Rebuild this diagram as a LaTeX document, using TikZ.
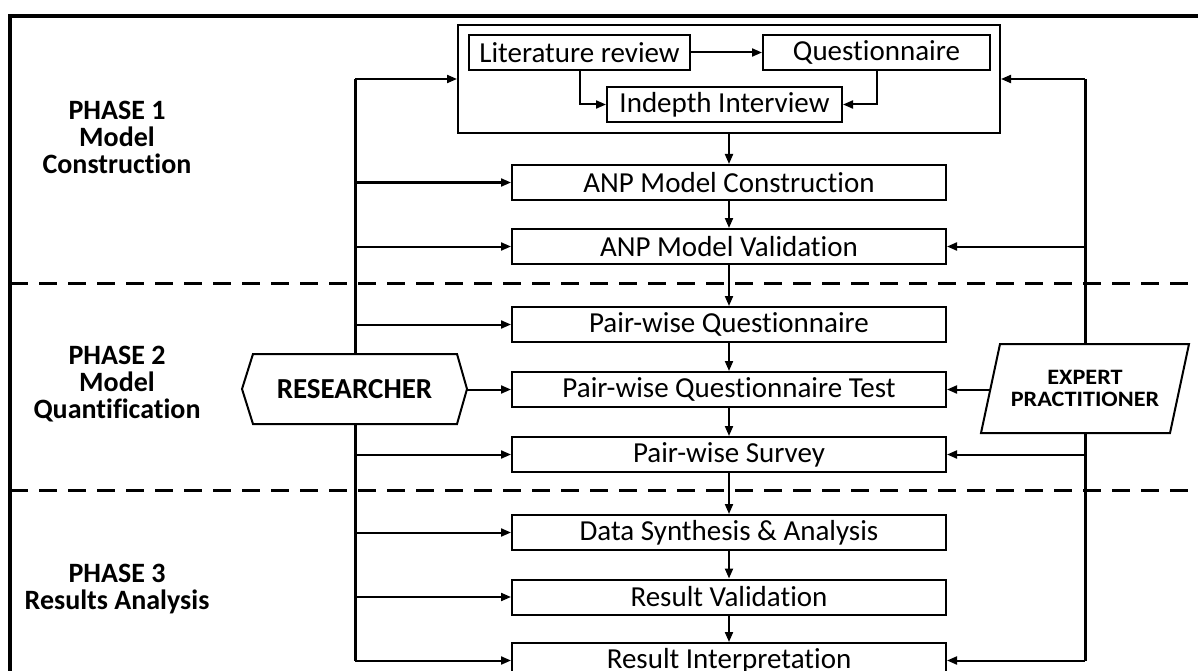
\documentclass[tikz,border=0pt]{standalone}
\usepackage{fontspec}
\setmainfont{Carlito}[Ligatures={NoCommon}]
\newfontfamily\expfont{Carlito}[FakeStretch=1.1,Ligatures={NoCommon}]
\usetikzlibrary{arrows.meta}
\begin{document}
\begin{tikzpicture}[x=1pt,y=-1pt,
  mainfont/.style={font=\fontsize{29}{34}\selectfont},
  box/.style={draw,line width=2pt,minimum width=434pt,minimum height=35pt,inner sep=0pt,mainfont},
  sbox/.style={draw,line width=2pt,minimum height=35pt,inner sep=0pt,mainfont},
  conn/.style={line width=2pt,-{Triangle[length=10pt,width=8pt]}},
  trunk/.style={line width=3pt},
  phase/.style={align=center,font=\fontsize{28}{27}\selectfont\bfseries},
  divider/.style={line width=3pt,dash pattern=on 18pt off 11pt}]
\useasboundingbox (0,0) rectangle (1198,671);
\clip (0,0) rectangle (1198,671);
\fill[white] (0,0) rectangle (1198,671);

% outer frame
\draw[line width=3.5pt] (10,680) -- (10,16) -- (1198,16);

% dividers
\coordinate (d1a) at (10,283); \coordinate (d1b) at (1198,283);
\coordinate (d2a) at (10,490); \coordinate (d2b) at (1198,490);
\draw[divider] (d1a) -- (d1b);
\draw[divider] (d2a) -- (d2b);

% phase labels
\node[phase] (p1) at (117,137) {PHASE 1\\Model\\Construction};
\node[phase] (p2) at (117,384) {PHASE 2\\Model\\Quantification};
\node[phase] (p3) at (117,589) {PHASE 3\\Results Analysis};

% top group
\node[draw,line width=2pt,minimum width=542pt,minimum height=108pt,inner sep=0pt] (grp) at (729,79) {};
\node[sbox,minimum width=221pt] (lit) at (579.5,52.5) {Literature review};
\node[sbox,minimum width=227pt] (que) at (876.5,52.5) {Questionnaire};
\node[sbox,minimum width=235pt] (ind) at (724.5,104.5) {Indepth Interview};
\draw[conn] (lit) -- (que);
\draw[conn] (lit.south) |- (ind.west);
\draw[conn] (que.south) |- (ind.east);

% main column
\node[box] (amc) at (729,182.5) {ANP Model Construction};
\node[box] (amv) at (729,246.5) {ANP Model Validation};
\node[box] (pwq) at (729,324.5) {Pair-wise Questionnaire};
\node[box] (pwqt) at (729,389.5) {Pair-wise Questionnaire Test};
\node[box] (pws) at (729,454.5) {Pair-wise Survey};
\node[box] (dsa) at (729,532.5) {Data Synthesis \& Analysis};
\node[box] (rv) at (729,597) {Result Validation};
\node[box] (ri) at (729,660.5) {Result Interpretation};

\draw[conn] (grp.south) -- (amc.north);
\draw[conn] (amc) -- (amv);
\draw[conn] (amv) -- (pwq);
\draw[conn] (pwq) -- (pwqt);
\draw[conn] (pwqt) -- (pws);
\draw[conn] (pws) -- (dsa);
\draw[conn] (dsa) -- (rv);
\draw[conn] (rv) -- (ri);

% researcher trunk
\coordinate (L1) at (355,79);
\coordinate (L2) at (355,660.5);
\draw[trunk] (L1) -- (L2);
\draw[conn] (L1) -- (grp.west);
\draw[conn] (amc.west -| L1) -- (amc.west);
\draw[conn] (amv.west -| L1) -- (amv.west);
\draw[conn] (pwq.west -| L1) -- (pwq.west);
\draw[conn] (pws.west -| L1) -- (pws.west);
\draw[conn] (dsa.west -| L1) -- (dsa.west);
\draw[conn] (rv.west -| L1) -- (rv.west);
\draw[conn] (L2) -- (ri.west);

% expert trunk
\coordinate (R1) at (1085,79);
\coordinate (R2) at (1085,660.5);
\draw[trunk] (R1) -- (R2);
\draw[conn] (R1) -- (grp.east);
\draw[conn] (amv.east -| R1) -- (amv.east);
\draw[conn] (pws.east -| R1) -- (pws.east);
\draw[conn] (R2) -- (ri.east);

% researcher hexagon
\draw[line width=2pt,fill=white] (242,389) -- (253,354) -- (457,354) -- (467,389) -- (457,424) -- (253,424) -- cycle;
\node[font=\fontsize{29}{34}\selectfont\bfseries,inner sep=0pt] (res) at (354.5,389) {RESEARCHER};
\coordinate (rese) at (467,389.5);
\draw[conn] (rese) -- (pwqt.west);

% expert parallelogram
\draw[line width=2pt,fill=white] (981,433) -- (1000,344) -- (1189,344) -- (1170,433) -- cycle;
\node[align=center,font=\expfont\fontsize{22}{22}\selectfont\bfseries,inner sep=0pt] (exp) at (1085,388) {EXPERT\\PRACTITIONER};
\coordinate (expw) at (990,389.5);
\draw[conn] (expw) -- (pwqt.east);
\end{tikzpicture}
\end{document}
